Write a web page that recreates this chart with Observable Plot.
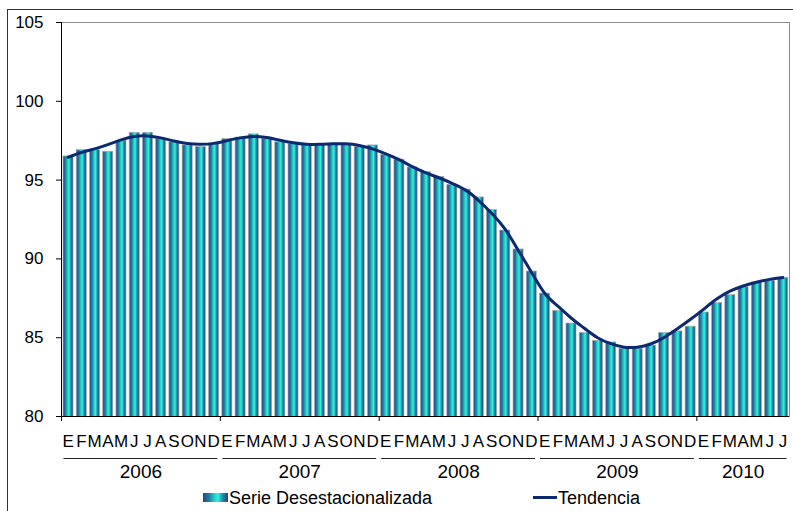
<!DOCTYPE html>
<html>
<head>
<meta charset="utf-8">
<script src="https://cdn.jsdelivr.net/npm/d3@7"></script>
<script src="https://cdn.jsdelivr.net/npm/@observablehq/plot@0.6"></script>
<style>
  html, body { margin: 0; padding: 0; background: #fff; }
  #page { position: relative; width: 793px; height: 511px; overflow: hidden; font-family: "Liberation Sans", Arial, sans-serif; }
  #border { position: absolute; left: 7px; top: 9px; width: 900px; height: 600px; border: 1px solid #333; box-sizing: border-box; }
  #chart { position: absolute; left: 0; top: 0; }
  #legend { position: absolute; left: 0; top: 484px; width: 793px; height: 28px; font-size: 18px; color: #000; }
  .sw-bar { position: absolute; left: 203px; top: 9px; width: 25px; height: 9px;
    background: linear-gradient(to right, #2a4583, #1f7fa0 25%, #27dcd0 50%, #30f0dc 60%, #1d87a2 80%, #2a4080); }
  .sw-line { position: absolute; left: 533px; top: 12px; width: 24px; height: 3px; background: #0b2a6f; }
  .lbl { position: absolute; top: 3px; line-height: 22px; white-space: nowrap; }
</style>
</head>
<body>
<div id="page">
  <div id="border"></div>
  <div id="chart"></div>
  <div id="legend">
    <div class="sw-bar"></div><div class="lbl" style="left:229px">Serie Desestacionalizada</div>
    <div class="sw-line"></div><div class="lbl" style="left:558px">Tendencia</div>
  </div>
</div>
<script>
// Month initials (Spanish) and years on the x axis
const months = ["E", "F", "M", "A", "M", "J", "J", "A", "S", "O", "N", "D"];
const years = ["2006", "2007", "2008", "2009", "2010"];

// Seasonally adjusted index, January 2006 – July 2010
const serie = [
  96.5, 96.9, 96.9, 96.8, 97.5, 98.0, 98.0, 97.6, 97.4, 97.2, 97.1, 97.3,
  97.6, 97.7, 97.9, 97.6, 97.4, 97.3, 97.2, 97.2, 97.3, 97.3, 97.1, 97.2,
  96.6, 96.3, 95.8, 95.5, 95.2, 94.7, 94.4, 93.9, 93.1, 91.8, 90.6, 89.2,
  87.8, 86.7, 85.9, 85.3, 84.8, 84.7, 84.3, 84.3, 84.5, 85.3, 85.4, 85.7,
  86.6, 87.2, 87.7, 88.2, 88.5, 88.6, 88.8
];

// Trend component
const tendencia = [
  96.45, 96.75, 96.98, 97.25, 97.55, 97.77, 97.80, 97.68, 97.48, 97.32, 97.27, 97.33,
  97.50, 97.68, 97.77, 97.70, 97.53, 97.37, 97.28, 97.27, 97.30, 97.30, 97.20, 96.98,
  96.67, 96.30, 95.85, 95.47, 95.15, 94.80, 94.38, 93.72, 92.90, 91.90, 90.55, 89.16,
  87.82, 87.00, 86.25, 85.60, 85.00, 84.62, 84.40, 84.40, 84.60, 85.00, 85.55, 86.15,
  86.80, 87.45, 87.95, 88.28, 88.52, 88.70, 88.82
];

const yTicks = [80, 85, 90, 95, 100, 105];

const rows = serie.map((v, i) => ({ i, v, t: tendencia[i], mes: months[i % 12] }));
const groups = years.map((year, k) => ({
  year,
  start: k * 12,
  end: Math.min(k * 12 + 12, serie.length)
}));

// Horizontal gradient shared by every bar
const gradientDefs = () => {
  const defs = d3.create("svg:defs");
  const g = defs.append("linearGradient").attr("id", "barGrad").attr("x1", 0).attr("x2", 1).attr("y1", 0).attr("y2", 0);
  [[0, "#2a4583"], [0.25, "#1f7fa0"], [0.5, "#27dcd0"], [0.6, "#30f0dc"], [0.8, "#1d87a2"], [1, "#2a4080"]]
    .forEach(([o, c]) => g.append("stop").attr("offset", o).attr("stop-color", c));
  return defs.node();
};

const chart = Plot.plot({
  width: 793,
  height: 484,
  marginLeft: 61,
  marginRight: 4,
  marginTop: 22,
  marginBottom: 68,
  style: { fontFamily: "Liberation Sans, Arial, sans-serif", fontSize: "17px", color: "#000", background: "transparent" },
  x: { domain: [0, serie.length] },
  y: { domain: [80, 105] },
  marks: [
    gradientDefs,
    Plot.frame({ stroke: "#8c8c8c" }),
    Plot.rectY(rows, {
      x1: "i", x2: (d) => d.i + 1, y: "v",
      fill: "url(#barGrad)", stroke: "#a4acb8", strokeWidth: 0.7,
      insetLeft: 2, insetRight: 1.2, clip: true
    }),
    Plot.line(rows, { x: (d) => d.i + 0.5, y: "t", stroke: "#0b2a6f", strokeWidth: 3, curve: "natural" }),
    Plot.ruleX([0], { stroke: "#000" }),
    Plot.ruleY([80], { stroke: "#000" }),
    Plot.axisY({ ticks: yTicks, tickSize: 5, tickPadding: 13, fontSize: 17 }),
    Plot.axisX({ ticks: rows.map((d) => d.i + 0.5), tickFormat: (d) => months[Math.floor(d) % 12], tickSize: 0, tickPadding: 18, fontSize: 17 }),
    Plot.axisX({ ticks: groups.map((d) => d.start), tickSize: 5, tickFormat: () => "" }),
    Plot.ruleY(groups, { x1: "start", x2: "end", y: () => 80, dy: 42, insetLeft: 2.5, insetRight: 2.5, stroke: "#222" }),
    Plot.text(groups, { x: (d) => (d.start + d.end) / 2, text: "year", frameAnchor: "bottom", dy: 61, fontSize: 19 })
  ]
});

document.getElementById("chart").append(chart);
</script>
</body>
</html>
